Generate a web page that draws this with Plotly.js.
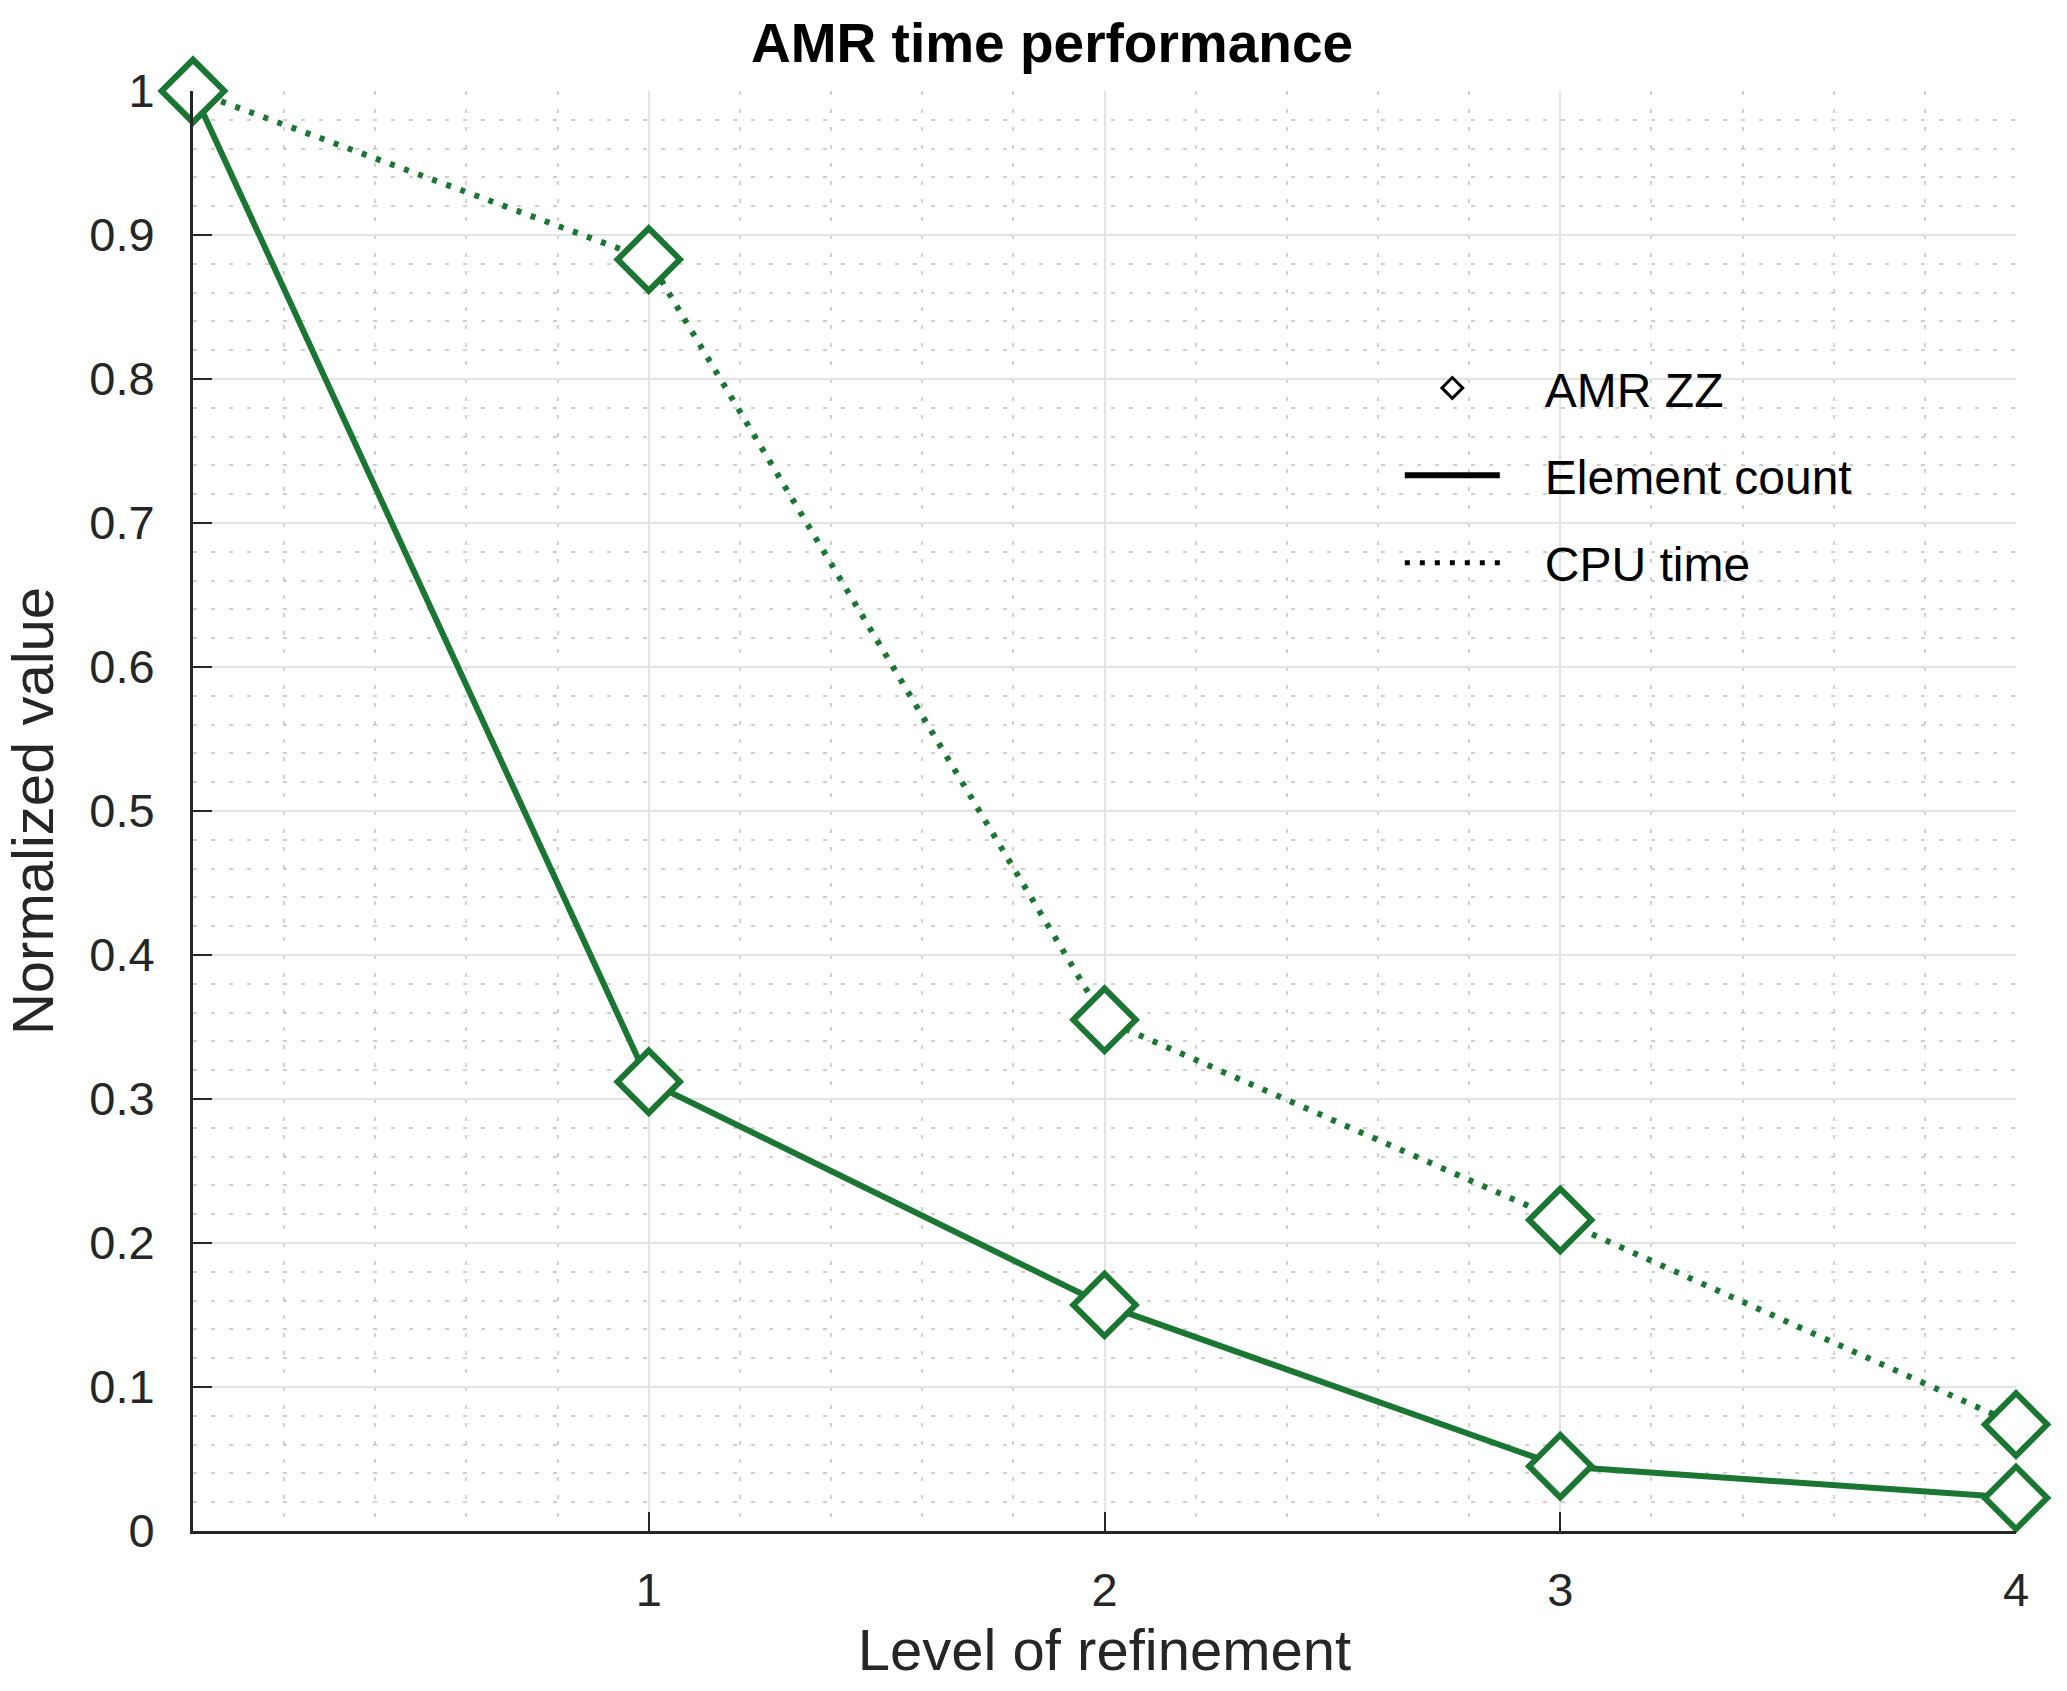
<!DOCTYPE html>
<html>
<head>
<meta charset="utf-8">
<script src="https://cdn.plot.ly/plotly-3.0.1.min.js"></script>
<style>html,body{margin:0;padding:0;background:#fff;}</style>
</head>
<body>
<div id="chart" style="width:2067px;height:1691px;"></div>
<script>
// Data
const refinementLevels = [0, 1, 2, 3, 4];
const elementCount = [1, 0.312, 0.157, 0.045, 0.023];
const cpuTime = [1, 0.883, 0.355, 0.216, 0.074];
const xTickVals = [1, 2, 3, 4];
const yTickVals = [0, 0.1, 0.2, 0.3, 0.4, 0.5, 0.6, 0.7, 0.8, 0.9, 1];
const yTickText = ['0', '0.1', '0.2', '0.3', '0.4', '0.5', '0.6', '0.7', '0.8', '0.9', '1'];
const legendNames = ['AMR ZZ', 'Element count', 'CPU time'];

const green = '#1b7634';
const fontFam = 'Liberation Sans, Arial, Helvetica, sans-serif';
const pad = '\u00a0\u00a0\u00a0';

const traces = [
  {
    x: refinementLevels, y: cpuTime, type: 'scatter', mode: 'lines+markers',
    line: {color: green, width: 6, dash: '5px,10px'},
    marker: {symbol: 'diamond', size: 48, color: '#ffffff', line: {color: green, width: 6}},
    cliponaxis: false, showlegend: false, hoverinfo: 'skip'
  },
  {
    x: refinementLevels, y: elementCount, type: 'scatter', mode: 'lines+markers',
    line: {color: green, width: 6},
    marker: {symbol: 'diamond', size: 48, color: '#ffffff', line: {color: green, width: 6}},
    cliponaxis: false, showlegend: false, hoverinfo: 'skip'
  },
  // legend-only entries (black, as in the reference legend)
  {
    x: [null], y: [null], type: 'scatter', mode: 'markers', name: pad + legendNames[0], legendgroup: 'a',
    marker: {symbol: 'diamond-open', size: 16, color: '#000000', line: {width: 3}}
  },
  {
    x: [null], y: [null], type: 'scatter', mode: 'lines', name: pad + legendNames[1], legendgroup: 'b',
    line: {color: '#000000', width: 6}
  },
  {
    x: [null], y: [null], type: 'scatter', mode: 'lines', name: pad + legendNames[2], legendgroup: 'c',
    line: {color: '#000000', width: 5, dash: '5px,10px'}
  }
];

const layout = {
  width: 2067, height: 1691,
  paper_bgcolor: '#ffffff', plot_bgcolor: '#ffffff',
  margin: {l: 193, r: 51, t: 91, b: 160, pad: 0},
  font: {family: fontFam, color: '#262626'},
  title: {
    text: '<b>AMR time performance</b>',
    font: {family: fontFam, size: 55, color: '#000000'},
    x: 0.509, xref: 'container', xanchor: 'center',
    y: 0.975, yref: 'container', yanchor: 'middle'
  },
  xaxis: {
    range: [0, 4],
    tickmode: 'array', tickvals: xTickVals,
    ticks: 'inside', ticklen: 19, tickwidth: 2, tickcolor: '#262626',
    tickfont: {size: 47, color: '#262626'},
    ticklabelstandoff: 16,
    showline: true, linecolor: '#262626', linewidth: 3,
    showgrid: true, gridcolor: '#e3e3e3', gridwidth: 2,
    zeroline: false,
    minor: {dtick: 0.2, showgrid: true, gridcolor: '#cfcfcf', gridwidth: 2, griddash: '4px,14px'},
    title: {text: 'Level of refinement', font: {size: 58, color: '#262626'}, standoff: 14}
  },
  yaxis: {
    range: [0, 1],
    tickmode: 'array', tickvals: yTickVals, ticktext: yTickText,
    ticks: 'inside', ticklen: 19, tickwidth: 2, tickcolor: '#262626',
    tickfont: {size: 47, color: '#262626'},
    ticklabelstandoff: 26,
    showline: true, linecolor: '#262626', linewidth: 3,
    showgrid: true, gridcolor: '#e3e3e3', gridwidth: 2,
    zeroline: false,
    minor: {dtick: 0.02, showgrid: true, gridcolor: '#cfcfcf', gridwidth: 2, griddash: '4px,14px'},
    title: {text: 'Normalized value', font: {size: 58, color: '#262626'}, standoff: 22}
  },
  showlegend: true,
  legend: {
    x: 0.662, y: 0.82, xanchor: 'left', yanchor: 'top',
    bgcolor: 'rgba(0,0,0,0)', borderwidth: 0,
    font: {size: 48, color: '#000000', family: fontFam},
    traceorder: 'grouped', tracegroupgap: 22,
    itemwidth: 95
  }
};

Plotly.newPlot('chart', traces, layout, {displayModeBar: false, staticPlot: true});
</script>
</body>
</html>
